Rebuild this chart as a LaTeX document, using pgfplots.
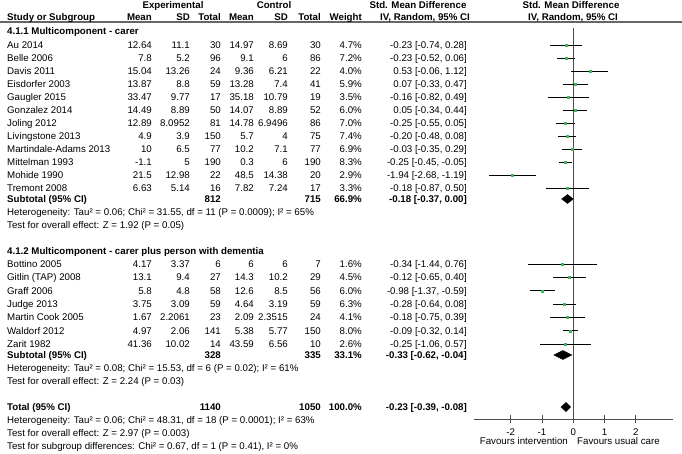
\documentclass[border=0pt]{standalone}
\usepackage{pgfplots}
\pgfplotsset{compat=1.18}
\usepackage{fontspec}
\setmainfont{Liberation Sans}
\definecolor{mk}{RGB}{60,180,90}
\newcommand{\fs}{\fontsize{9.7}{11}\selectfont}
\newcommand{\tl}[3]{\node[anchor=base west,inner sep=0] at (#1,#2+3.5) {#3};}
\newcommand{\tr}[3]{\node[anchor=base east,inner sep=0] at (#1,#2+3.5) {#3};}
\newcommand{\tc}[3]{\node[anchor=base,inner sep=0] at (#1,#2+3.5) {#3};}
\newcommand{\srow}[9]{\tl{7}{#1}{#2}\tr{152}{#1}{#3}\tr{190}{#1}{#4}\tr{221}{#1}{#5}\tr{254}{#1}{#6}\tr{288}{#1}{#7}\tr{321}{#1}{#8}\tr{362}{#1}{#9}}
\newcommand{\cirow}[2]{\tr{467}{#1}{#2}}
\begin{document}
\begin{tikzpicture}[every node/.style={font=\fs}]
\useasboundingbox (0,0) rectangle (682pt,-454pt);
\begin{axis}[
  at={(474pt,-419pt)}, anchor=south west,
  scale only axis, width=199pt, height=391pt,
  xmin=-3.17, xmax=3.19, ymin=-419, ymax=-28,
  axis x line*=bottom, axis y line=none,
  xtick={-2,-1,0,1,2}, ytick=\empty,
  tick align=center, major tick length=8pt,
  x axis line style={-, black!70, line width=0.8pt},
  xtick style={black!70, line width=0.8pt},
  xticklabel style={font=\fs, yshift=-2.5pt},
  /pgf/number format/assume math mode=true,
  clip=false,
]
\addplot[black!70, line width=0.8pt] coordinates {(0,-28) (0,-419)};
\addplot[only marks, mark=square*, mark size=1.0pt, color=mk,
  error bars/.cd, x dir=both, x explicit, error mark=none,
  error bar style={black, line width=0.7pt}] coordinates {
  (-0.23,-45) -= (0.51,0) += (0.51,0)
  (-0.23,-58) -= (0.29,0) += (0.29,0)
  (0.53,-71) -= (0.59,0) += (0.59,0)
  (0.07,-84) -= (0.40,0) += (0.40,0)
  (-0.16,-97) -= (0.66,0) += (0.65,0)
  (0.05,-110) -= (0.39,0) += (0.39,0)
  (-0.25,-123) -= (0.30,0) += (0.30,0)
  (-0.20,-136) -= (0.28,0) += (0.28,0)
  (-0.03,-149) -= (0.32,0) += (0.32,0)
  (-0.25,-162) -= (0.20,0) += (0.20,0)
  (-1.94,-175) -= (0.74,0) += (0.75,0)
  (-0.18,-188) -= (0.69,0) += (0.68,0)
  (-0.34,-264) -= (1.10,0) += (1.10,0)
  (-0.12,-277.3) -= (0.53,0) += (0.52,0)
  (-0.98,-290.7) -= (0.39,0) += (0.39,0)
  (-0.28,-304) -= (0.36,0) += (0.36,0)
  (-0.18,-317.3) -= (0.57,0) += (0.57,0)
  (-0.09,-330.7) -= (0.23,0) += (0.23,0)
  (-0.25,-344) -= (0.81,0) += (0.82,0)
};
\addplot[fill=black, draw=black] coordinates {(-0.37,-199) (-0.18,-194.5) (0.00,-199) (-0.18,-203.5)} --cycle;
\addplot[fill=black, draw=black] coordinates {(-0.62,-355) (-0.33,-350.5) (-0.04,-355) (-0.33,-359.5)} --cycle;
\addplot[fill=black, draw=black] coordinates {(-0.39,-407) (-0.23,-402.5) (-0.08,-407) (-0.23,-411.5)} --cycle;
\end{axis}
\begin{scope}[x=1pt,y=-1pt]
\draw[black!60, line width=1.4pt] (0,22) -- (682,22);
\tc{173}{5}{\bfseries Experimental}
\tc{274}{5}{\bfseries Control}
\tc{418}{5}{\bfseries Std. Mean Difference}
\tc{571}{5}{\bfseries Std. Mean Difference}
\tl{7}{17}{\bfseries Study or Subgroup}
\tr{152}{17}{\bfseries Mean}\tr{190}{17}{\bfseries SD}\tr{221}{17}{\bfseries Total}
\tr{254}{17}{\bfseries Mean}\tr{288}{17}{\bfseries SD}\tr{321}{17}{\bfseries Total}
\tr{362}{17}{\bfseries Weight}
\tc{425}{17}{\bfseries IV, Random, 95\% CI}
\tc{573}{17}{\bfseries IV, Random, 95\% CI}
\tl{7}{31}{\bfseries 4.1.1 Multicomponent - carer}
\srow{45}{Au 2014}{12.64}{11.1}{30}{14.97}{8.69}{30}{4.7\%}\cirow{45}{-0.23 [-0.74, 0.28]}
\srow{58}{Belle 2006}{7.8}{5.2}{96}{9.1}{6}{86}{7.2\%}\cirow{58}{-0.23 [-0.52, 0.06]}
\srow{71}{Davis 2011}{15.04}{13.26}{24}{9.36}{6.21}{22}{4.0\%}\cirow{71}{0.53 [-0.06, 1.12]}
\srow{84}{Eisdorfer 2003}{13.87}{8.8}{59}{13.28}{7.4}{41}{5.9\%}\cirow{84}{0.07 [-0.33, 0.47]}
\srow{97}{Gaugler 2015}{33.47}{9.77}{17}{35.18}{10.79}{19}{3.5\%}\cirow{97}{-0.16 [-0.82, 0.49]}
\srow{110}{Gonzalez 2014}{14.49}{8.89}{50}{14.07}{8.89}{52}{6.0\%}\cirow{110}{0.05 [-0.34, 0.44]}
\srow{123}{Joling 2012}{12.89}{8.0952}{81}{14.78}{6.9496}{86}{7.0\%}\cirow{123}{-0.25 [-0.55, 0.05]}
\srow{136}{Livingstone 2013}{4.9}{3.9}{150}{5.7}{4}{75}{7.4\%}\cirow{136}{-0.20 [-0.48, 0.08]}
\srow{149}{Martindale-Adams 2013}{10}{6.5}{77}{10.2}{7.1}{77}{6.9\%}\cirow{149}{-0.03 [-0.35, 0.29]}
\srow{162}{Mittelman 1993}{-1.1}{5}{190}{0.3}{6}{190}{8.3\%}\cirow{162}{-0.25 [-0.45, -0.05]}
\srow{175}{Mohide 1990}{21.5}{12.98}{22}{48.5}{14.38}{20}{2.9\%}\cirow{175}{-1.94 [-2.68, -1.19]}
\srow{188}{Tremont 2008}{6.63}{5.14}{16}{7.82}{7.24}{17}{3.3\%}\cirow{188}{-0.18 [-0.87, 0.50]}
\srow{199}{\bfseries Subtotal (95\% CI)}{}{}{\bfseries 812}{}{}{\bfseries 715}{\bfseries 66.9\%}\cirow{199}{\bfseries -0.18 [-0.37, 0.00]}
\tl{7}{212}{Heterogeneity: Tau² = 0.06; Chi² = 31.55, df = 11 (P = 0.0009); I² = 65\%}
\tl{7}{225}{Test for overall effect: Z = 1.92 (P = 0.05)}
\tl{7}{251}{\bfseries 4.1.2 Multicomponent - carer plus person with dementia}
\srow{264}{Bottino 2005}{4.17}{3.37}{6}{6}{6}{7}{1.6\%}\cirow{264}{-0.34 [-1.44, 0.76]}
\srow{277.3}{Gitlin (TAP) 2008}{13.1}{9.4}{27}{14.3}{10.2}{29}{4.5\%}\cirow{277.3}{-0.12 [-0.65, 0.40]}
\srow{290.7}{Graff 2006}{5.8}{4.8}{58}{12.6}{8.5}{56}{6.0\%}\cirow{290.7}{-0.98 [-1.37, -0.59]}
\srow{304}{Judge 2013}{3.75}{3.09}{59}{4.64}{3.19}{59}{6.3\%}\cirow{304}{-0.28 [-0.64, 0.08]}
\srow{317.3}{Martin Cook 2005}{1.67}{2.2061}{23}{2.09}{2.3515}{24}{4.1\%}\cirow{317.3}{-0.18 [-0.75, 0.39]}
\srow{330.7}{Waldorf 2012}{4.97}{2.06}{141}{5.38}{5.77}{150}{8.0\%}\cirow{330.7}{-0.09 [-0.32, 0.14]}
\srow{344}{Zarit 1982}{41.36}{10.02}{14}{43.59}{6.56}{10}{2.6\%}\cirow{344}{-0.25 [-1.06, 0.57]}
\srow{355}{\bfseries Subtotal (95\% CI)}{}{}{\bfseries 328}{}{}{\bfseries 335}{\bfseries 33.1\%}\cirow{355}{\bfseries -0.33 [-0.62, -0.04]}
\tl{7}{368}{Heterogeneity: Tau² = 0.08; Chi² = 15.53, df = 6 (P = 0.02); I² = 61\%}
\tl{7}{381}{Test for overall effect: Z = 2.24 (P = 0.03)}
\srow{407}{\bfseries Total (95\% CI)}{}{}{\bfseries 1140}{}{}{\bfseries 1050}{\bfseries 100.0\%}\cirow{407}{\bfseries -0.23 [-0.39, -0.08]}
\tl{7}{420}{Heterogeneity: Tau² = 0.06; Chi² = 48.31, df = 18 (P = 0.0001); I² = 63\%}
\tl{7}{433}{Test for overall effect: Z = 2.97 (P = 0.003)}
\tl{7}{446}{Test for subgroup differences: Chi² = 0.67, df = 1 (P = 0.41), I² = 0\%}
\tr{568}{441}{Favours intervention}
\tl{577}{441}{Favours usual care}
\end{scope}
\end{tikzpicture}
\end{document}
